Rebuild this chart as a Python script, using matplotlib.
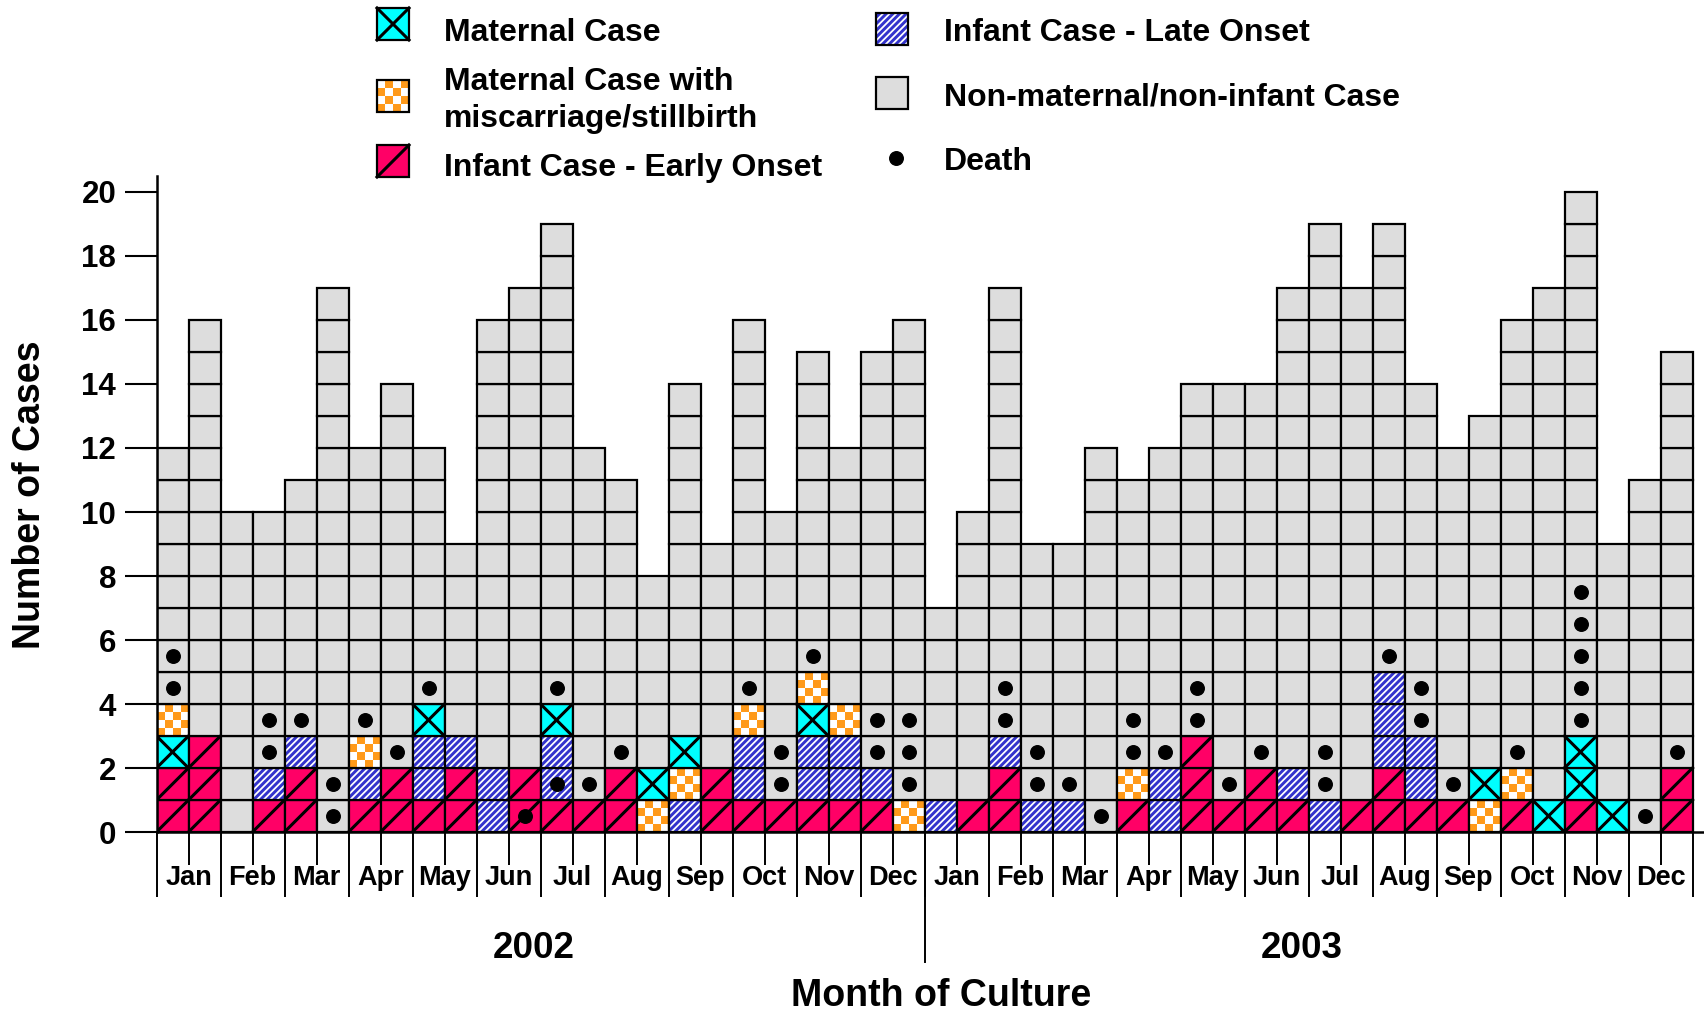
import matplotlib.pyplot as plt
from matplotlib.patches import Rectangle
from matplotlib.transforms import blended_transform_factory
import numpy as np

plt.rcParams['font.family'] = ['Liberation Sans', 'DejaVu Sans']
plt.rcParams['font.weight'] = 'bold'
plt.rcParams['hatch.linewidth'] = 2.1

# --- data: two columns (half months) per month, Jan 2002 .. Dec 2003 ---
months = ['Jan', 'Feb', 'Mar', 'Apr', 'May', 'Jun',
          'Jul', 'Aug', 'Sep', 'Oct', 'Nov', 'Dec']
years = ['2002', '2003']

# total cases per half month
totals = [12, 16, 10, 10, 11, 17, 12, 14, 12, 9, 16, 17,
          19, 12, 11, 8, 14, 9, 16, 10, 15, 12, 15, 16,
          7, 10, 17, 9, 9, 12, 11, 12, 14, 14, 14, 17,
          19, 17, 19, 14, 12, 13, 16, 17, 20, 9, 11, 15]

# pregnancy-associated cases, bottom to top
# E = infant early onset, L = infant late onset, M = maternal, S = maternal w/ miscarriage
stacks = ['EEMS', 'EEE', '', 'EL', 'EEL', '', 'ELS', 'EE', 'ELLM', 'EEL', 'LL', 'EE',
          'ELLM', 'E', 'EE', 'SM', 'LSM', 'EE', 'ELLS', 'E', 'ELLMS', 'ELLS', 'EL', 'S',
          'L', 'E', 'EEL', 'L', 'L', '', 'ES', 'LL', 'EEE', 'E', 'EE', 'EL',
          'L', 'E', 'EELLL', 'ELL', 'E', 'SM', 'ES', 'M', 'EMM', 'M', '', 'EE']

# cells (row index from bottom) that carry a death
deaths = [[4, 5], [], [], [2, 3], [3], [0, 1], [3], [2], [4], [], [], [0],
          [1, 4], [1], [2], [], [], [], [4], [1, 2], [5], [], [2, 3], [1, 2, 3],
          [], [], [3, 4], [1, 2], [1], [0], [2, 3], [2], [3, 4], [1], [2], [],
          [1, 2], [], [5], [3, 4], [1], [], [2], [], [3, 4, 5, 6, 7], [], [0], [2]]

PINK = '#FF0066'
CYAN = '#00FFFF'
ORANGE = '#FF9A1A'
BLUE = '#3333CC'
GRAY = '#DDDDDD'
LW = 1.6


def draw_cell(ax, x, y, kind, w=1.0, h=1.0):
    if kind == 'E':
        ax.add_patch(Rectangle((x, y), w, h, facecolor=PINK, edgecolor='k', lw=LW))
        ax.plot([x, x + w], [y, y + h], color='k', lw=2.2)
    elif kind == 'M':
        ax.add_patch(Rectangle((x, y), w, h, facecolor=CYAN, edgecolor='k', lw=LW))
        ax.plot([x, x + w], [y, y + h], color='k', lw=2.2)
        ax.plot([x, x + w], [y + h, y], color='k', lw=2.2)
    elif kind == 'S':
        ax.add_patch(Rectangle((x, y), w, h, facecolor='white', lw=0))
        for i in range(4):
            for j in range(4):
                if (i + j) % 2 == 0:
                    ax.add_patch(Rectangle((x + i * w / 4, y + j * h / 4), w / 4, h / 4,
                                           facecolor=ORANGE, lw=0))
        ax.add_patch(Rectangle((x, y), w, h, facecolor='none', edgecolor='k', lw=LW))
    elif kind == 'L':
        ax.add_patch(Rectangle((x, y), w, h, facecolor='white', edgecolor=BLUE,
                               hatch='/////', lw=0))
        ax.add_patch(Rectangle((x, y), w, h, facecolor='none', edgecolor='k', lw=LW))
    else:
        ax.add_patch(Rectangle((x, y), w, h, facecolor=GRAY, edgecolor='k', lw=LW))


W, H = 1704, 1011
fig = plt.figure(figsize=(W / 100, H / 100), dpi=100)
unit = 32.0
ax = fig.add_axes([156.5 / W, 179 / H, (W - 156.5) / W, 656 / H])

ncol = len(totals)
for i in range(ncol):
    col = stacks[i] + 'G' * (totals[i] - len(stacks[i]))
    for j, kind in enumerate(col):
        draw_cell(ax, i, j, kind)
    if deaths[i]:
        ax.scatter([i + 0.5] * len(deaths[i]), np.array(deaths[i]) + 0.5,
                   s=95, color='k', zorder=5)

ax.set_xlim(0, (W - 156.5) / unit)
ax.set_ylim(0, 656 / unit)
for s in ['top', 'right']:
    ax.spines[s].set_visible(False)
for s in ['left', 'bottom']:
    ax.spines[s].set_linewidth(1.8)

ax.set_yticks(range(0, 21, 2))
ax.tick_params(axis='y', direction='out', length=23, width=1.5, pad=6, labelsize=22.5)
for lab in ax.get_yticklabels():
    lab.set_fontweight('bold')

ax.set_xticks(np.arange(0, ncol + 1, 2))
ax.set_xticklabels([])
ax.set_xticks(np.arange(1, ncol, 2), minor=True)
ax.set_xticklabels(months * len(years), minor=True, fontweight='bold')
ax.tick_params(axis='x', which='major', direction='out', length=47, width=1.4)
ax.tick_params(axis='x', which='minor', direction='out', length=23.5, width=1.4,
               pad=0.5, labelsize=19.5)

# year divider and year labels
trans = blended_transform_factory(ax.transData, fig.transFigure)
half = ncol // len(years)
ax.plot([half, half], [1 - 832 / H, 1 - 962 / H], color='k', lw=1.4,
        transform=trans, clip_on=False)
for k, yr in enumerate(years):
    ax.text(half * k + half / 2 - 0.2, 1 - 949 / H, yr, transform=trans, ha='center',
            va='center', fontsize=26.5, fontweight='bold')

fig.text(941 / W, 1 - 996 / H, 'Month of Culture', ha='center', va='center',
         fontsize=27, fontweight='bold')
fig.text(30 / W, 1 - 495 / H, 'Number of Cases', ha='center', va='center',
         rotation=90, fontsize=27, fontweight='bold')

# legend drawn in pixel coordinates
lax = fig.add_axes([0, 0, 1, 1])
lax.set_xlim(0, W)
lax.set_ylim(0, H)
lax.axis('off')
legend_items = [
    ('M', 377, 8, ['Maternal Case'], 444, [41]),
    ('S', 377, 80, ['Maternal Case with', 'miscarriage/stillbirth'], 444, [90, 127]),
    ('E', 377, 145, ['Infant Case - Early Onset'], 444, [176]),
    ('L', 876, 13, ['Infant Case - Late Onset'], 944, [41]),
    ('G', 876, 77, ['Non-maternal/non-infant Case'], 944, [105]),
]
for kind, px, py, lines, tx, bases in legend_items:
    draw_cell(lax, px, H - py - 32, kind, w=32, h=32)
    for line, b in zip(lines, bases):
        lax.text(tx, H - b, line, fontsize=23.0, fontweight='bold', va='baseline')
lax.scatter([896], [H - 158], s=95, color='k')
lax.text(944, H - 170, 'Death', fontsize=23.0, fontweight='bold', va='baseline')

fig.savefig('out.png', dpi=100)
